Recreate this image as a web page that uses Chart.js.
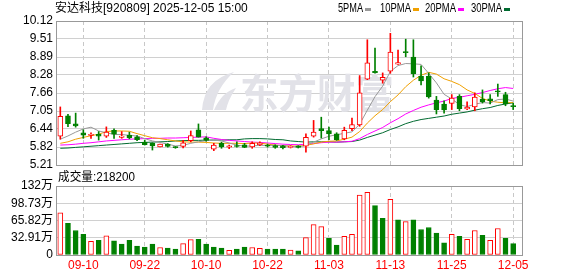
<!DOCTYPE html>
<html>
<head>
<meta charset="utf-8">
<script src="https://cdn.jsdelivr.net/npm/chart.js@4.4.1/dist/chart.umd.min.js"></script>
<style>
	body { margin: 0; background: #fff; }
	#area { position: relative; width: 578px; height: 276px; overflow: hidden; }
	canvas { position: absolute; left: 0; }
	#graficoPreco { top: 0; }
	#graficoVolume { top: 170px; }
</style>
</head>
<body>
<div id="area">
	<canvas id="graficoPreco" width="578" height="180"></canvas>
	<canvas id="graficoVolume" width="578" height="106"></canvas>
</div>
<script>
var titulo = '安达科技[920809] 2025-12-05 15:00';

var datas = ['09-05','09-08','09-09','09-10','09-11','09-12','09-15','09-16','09-17','09-18',
	'09-19','09-22','09-23','09-24','09-25','09-26','09-29','09-30','10-09','10-10',
	'10-13','10-14','10-15','10-16','10-17','10-20','10-21','10-22','10-23','10-24',
	'10-27','10-28','10-29','10-30','10-31','11-03','11-04','11-05','11-06','11-07',
	'11-10','11-11','11-12','11-13','11-14','11-17','11-18','11-19','11-20','11-21',
	'11-24','11-25','11-26','11-27','11-28','12-01','12-02','12-03','12-04','12-05'];

var datasMarcadas = ['09-10','09-22','10-10','10-22','11-03','11-13','11-25','12-05'];

var aberturas = [6.19,6.89,6.61,6.31,6.22,6.26,6.19,6.39,6.15,6.23,
	6.17,5.99,5.95,5.83,5.92,5.83,5.84,6.04,6.41,6.14,
	5.75,5.95,5.82,5.87,5.90,5.83,5.90,5.88,5.87,5.86,
	5.81,5.86,5.85,6.19,6.45,6.38,6.27,6.10,6.45,6.58,
	8.14,8.40,8.10,8.41,8.65,9.08,8.89,8.23,8.23,7.42,
	7.29,7.31,7.55,7.12,7.19,7.46,7.47,7.74,7.61,7.22];
var maximas = [7.19,6.94,6.98,6.41,6.31,6.35,6.51,6.44,6.35,6.33,
	6.21,6.06,5.97,5.92,5.94,5.84,6.05,6.37,6.61,6.17,
	5.95,5.99,5.89,6.00,5.95,6.00,6.00,5.92,5.90,5.88,
	5.87,5.87,6.27,6.73,6.84,6.50,6.31,6.50,6.81,8.26,
	9.48,9.20,8.35,9.70,9.13,9.50,9.48,8.59,8.35,7.55,
	7.40,7.61,7.61,7.36,7.67,7.77,7.61,7.97,7.69,7.32];
var minimas = [6.09,6.52,6.50,6.12,6.12,6.06,6.15,6.12,6.12,6.10,
	6.04,5.89,5.72,5.83,5.82,5.78,5.79,6.00,6.16,6.02,
	5.70,5.78,5.77,5.82,5.80,5.78,5.87,5.82,5.78,5.76,
	5.79,5.79,5.65,6.16,6.13,6.07,6.05,6.07,6.38,6.53,
	8.12,8.34,8.00,8.34,8.64,8.90,8.21,7.94,7.49,6.95,
	6.98,7.10,7.06,7.10,7.06,7.32,7.29,7.55,7.23,7.10];
var fechamentos = [6.87,6.62,6.54,6.23,6.26,6.19,6.33,6.26,6.20,6.14,
	6.07,5.90,5.86,5.92,5.84,5.80,5.97,6.21,6.16,6.05,
	5.89,5.83,5.86,5.84,5.81,5.95,5.96,5.85,5.81,5.80,
	5.85,5.81,6.15,6.33,6.38,6.27,6.07,6.39,6.59,7.67,
	8.69,8.36,8.20,9.06,8.70,9.04,8.32,8.08,7.53,7.10,
	7.09,7.49,7.13,7.18,7.53,7.37,7.40,7.70,7.29,7.20];

// volume em 万
var volumes = [80.4,60.5,46.8,39.3,26.2,28.1,36.8,26.8,20.6,28.1,
	16.8,15.0,20.6,14.3,13.1,11.2,21.8,29.3,29.9,20.6,
	15.0,13.1,8.7,11.2,15.0,14.3,12.5,11.2,11.2,11.2,
	9.4,8.1,33.0,58.0,54.2,31.8,18.7,35.5,39.3,114.1,
	119.7,94.1,69.8,106.0,67.3,63.6,67.3,48.6,52.4,41.8,
	23.1,39.3,35.5,29.9,46.8,37.4,28.1,50.5,31.8,21.82];

var media5 = [6.09,6.20,6.33,6.44,6.50,6.37,6.31,6.25,6.25,6.22,
	6.20,6.11,6.03,5.98,5.92,5.86,5.88,5.95,6.00,6.04,
	6.06,6.03,5.96,5.89,5.85,5.86,5.88,5.88,5.88,5.87,
	5.85,5.82,5.88,5.99,6.10,6.19,6.24,6.29,6.34,6.60,
	7.08,7.54,7.90,8.40,8.60,8.67,8.66,8.64,8.33,8.01,
	7.62,7.46,7.27,7.20,7.28,7.34,7.32,7.44,7.46,7.39];
var media10 = [5.95,6.00,6.09,6.15,6.21,6.26,6.35,6.37,6.37,6.36,
	6.28,6.21,6.14,6.11,6.07,6.03,6.00,5.99,5.99,5.98,
	5.96,5.95,5.95,5.95,5.94,5.96,5.96,5.92,5.89,5.86,
	5.86,5.85,5.88,5.93,5.99,6.02,6.03,6.09,6.16,6.35,
	6.64,6.89,7.10,7.37,7.60,7.88,8.10,8.27,8.37,8.31,
	8.15,8.06,7.95,7.77,7.65,7.48,7.39,7.35,7.33,7.34];
var media20 = [5.89,5.90,5.92,5.95,5.97,6.00,6.03,6.05,6.07,6.09,
	6.10,6.11,6.12,6.12,6.13,6.13,6.14,6.15,6.16,6.17,
	6.12,6.08,6.05,6.03,6.01,5.99,5.98,5.96,5.94,5.92,
	5.91,5.90,5.92,5.94,5.97,5.99,5.99,6.00,6.02,6.11,
	6.25,6.37,6.49,6.65,6.79,6.95,7.07,7.18,7.26,7.33,
	7.39,7.48,7.52,7.57,7.62,7.68,7.75,7.81,7.85,7.82];
var media30 = [5.78,5.79,5.81,5.83,5.85,5.87,5.89,5.91,5.93,5.95,
	5.97,5.98,5.99,6.00,6.01,6.03,6.04,6.05,6.05,6.06,
	6.06,6.06,6.07,6.07,6.10,6.11,6.11,6.10,6.08,6.07,
	6.03,6.01,5.99,6.00,6.00,6.00,5.99,6.00,6.01,6.06,
	6.15,6.23,6.31,6.42,6.51,6.62,6.70,6.76,6.80,6.84,
	6.88,6.94,6.98,7.02,7.08,7.13,7.17,7.24,7.29,7.33];

var rotulosPreco = [5.21, 5.82, 6.44, 7.05, 7.66, 8.28, 8.89, 9.51, 10.12];
var rotulosVolume = [0, 32.91, 65.82, 98.73, 131.64];
var textosVolume = ['0', '32.91万', '65.82万', '98.73万', '132万'];

var VERMELHO = '#ff0000';
var VERDE = '#008000';
var CINZA_GRADE = '#d0d0d0';

var medias = [
	{ nome: '5PMA', valores: media5, cor: '#999999', x: 338, w: 25 },
	{ nome: '10PMA', valores: media10, cor: '#f0a000', x: 380, w: 31 },
	{ nome: '20PMA', valores: media20, cor: '#ff00ff', x: 425, w: 31 },
	{ nome: '30PMA', valores: media30, cor: '#006a30', x: 471, w: 31 }
];

Chart.defaults.font.family = '"Liberation Sans", Arial, "Noto Sans CJK SC", sans-serif';
Chart.defaults.font.size = 12;
Chart.defaults.color = '#000';

var posicoesDatas = datasMarcadas.map(function(d) { return datas.indexOf(d); });

function alta(i) {
	return fechamentos[i] >= aberturas[i];
}

function volumeAlta(i) {
	return i === 0 ? alta(0) : fechamentos[i] >= fechamentos[i - 1];
}

function escalaX(comRotulos) {
	return {
		type: 'linear',
		min: -0.56,
		max: 60.15,
		bounds: 'data',
		offset: false,
		grid: { color: '#c8c8c8', drawTicks: false, offset: false },
		border: { display: false, dash: [4, 3] },
		afterBuildTicks: function(s) {
			s.ticks = posicoesDatas.map(function(v) { return { value: v }; });
		},
		afterFit: function(s) { s.height = comRotulos ? 21 : 0; },
		ticks: {
			display: comRotulos,
			autoSkip: false,
			maxRotation: 0,
			color: VERMELHO,
			padding: 3,
			callback: function(v) { return datas[v]; }
		}
	};
}

function escalaY(min, max, valores, textos) {
	return {
		min: min,
		max: max,
		bounds: 'data',
		grid: { color: CINZA_GRADE, drawTicks: false },
		border: { display: false },
		afterBuildTicks: function(s) {
			s.ticks = valores.map(function(v) { return { value: v }; });
		},
		afterFit: function(s) { s.width = 56; },
		ticks: {
			color: '#000',
			padding: 3,
			autoSkip: false,
			callback: function(v, i) { return textos ? textos[i] : v.toFixed(2); }
		}
	};
}

function desenharMoldura(chart) {
	var a = chart.chartArea;
	var ctx = chart.ctx;
	ctx.save();
	ctx.strokeStyle = '#999999';
	ctx.lineWidth = 1;
	ctx.strokeRect(Math.round(a.left) + 0.5, Math.round(a.top) + 0.5,
		Math.round(a.right - a.left), Math.round(a.bottom - a.top));
	ctx.restore();
}

var pluginPreco = {
	id: 'pluginPreco',
	beforeDatasetsDraw: function(chart) {
		var ctx = chart.ctx;
		ctx.save();
		ctx.fillStyle = '#e2e2e8';
		ctx.font = 'bold 40px "Noto Sans CJK SC"';
		ctx.textBaseline = 'middle';
		ctx.fillText('东方财富', 240, 93, 154);
		ctx.beginPath();
		ctx.moveTo(202, 110);
		ctx.quadraticCurveTo(204, 80, 234, 72);
		ctx.quadraticCurveTo(216, 88, 213, 110);
		ctx.closePath();
		ctx.fill();
		ctx.beginPath();
		ctx.moveTo(214, 110);
		ctx.quadraticCurveTo(222, 92, 236, 88);
		ctx.quadraticCurveTo(228, 100, 226, 110);
		ctx.closePath();
		ctx.fill();
		ctx.restore();
	},
	afterDraw: function(chart) {
		var ctx = chart.ctx;
		desenharMoldura(chart);
		ctx.save();
		ctx.font = '12px "Liberation Sans", "Noto Sans CJK SC"';
		ctx.textBaseline = 'middle';
		ctx.fillStyle = '#000';
		ctx.fillText(titulo, 55, 9, 198);
		medias.forEach(function(m) {
			ctx.fillStyle = '#000';
			ctx.fillText(m.nome, m.x, 9, m.w);
			ctx.fillStyle = m.cor;
			ctx.fillRect(m.x + m.w + 2, 8, 6, 3);
		});
		ctx.restore();
	}
};

var pluginVolume = {
	id: 'pluginVolume',
	afterDraw: function(chart) {
		var ctx = chart.ctx;
		desenharMoldura(chart);
		ctx.save();
		ctx.font = '12px "Liberation Sans", "Noto Sans CJK SC"';
		ctx.textBaseline = 'middle';
		ctx.fillStyle = '#000';
		ctx.fillText('成交量:' + Math.round(volumes[volumes.length - 1] * 10000), 58, 8, 77);
		ctx.restore();
	}
};

function linhaMedia(m, ordem) {
	return {
		type: 'line',
		label: m.nome,
		data: m.valores.map(function(v, i) { return { x: i, y: v }; }),
		borderColor: m.cor,
		borderWidth: 1,
		pointRadius: 0,
		tension: 0,
		order: ordem
	};
}

var datasetsPreco = [
	{
		label: 'corpo',
		data: datas.map(function(d, i) { return { x: i, y: [aberturas[i], fechamentos[i]] }; }),
		backgroundColor: datas.map(function(d, i) {
			if (!alta(i)) return VERDE;
			return fechamentos[i] - aberturas[i] < 0.04 ? VERMELHO : '#ffffff';
		}),
		borderColor: datas.map(function(d, i) { return alta(i) ? VERMELHO : VERDE; }),
		borderWidth: 1,
		borderSkipped: false,
		barThickness: 5,
		minBarLength: 1,
		grouped: false,
		order: 0
	},
	{
		label: 'sombra',
		data: datas.map(function(d, i) { return { x: i, y: [minimas[i], maximas[i]] }; }),
		backgroundColor: datas.map(function(d, i) { return alta(i) ? VERMELHO : VERDE; }),
		barThickness: 1,
		grouped: false,
		order: 1
	}
];
medias.forEach(function(m, k) { datasetsPreco.push(linhaMedia(m, 2 + k)); });

var graficoPreco = new Chart(document.getElementById('graficoPreco'), {
	type: 'bar',
	data: { datasets: datasetsPreco },
	options: {
		responsive: false,
		animation: false,
		devicePixelRatio: 1,
		events: [],
		layout: { padding: { left: 0, top: 21, right: 56, bottom: 15 } },
		plugins: { legend: { display: false }, tooltip: { enabled: false } },
		scales: {
			x: escalaX(false),
			y: escalaY(5.21, 10.12, rotulosPreco, null)
		}
	},
	plugins: [pluginPreco]
});

var graficoVolume = new Chart(document.getElementById('graficoVolume'), {
	type: 'bar',
	data: {
		datasets: [{
			label: 'volume',
			data: volumes.map(function(v, i) { return { x: i, y: v }; }),
			backgroundColor: volumes.map(function(v, i) { return volumeAlta(i) ? '#ffffff' : VERDE; }),
			borderColor: volumes.map(function(v, i) { return volumeAlta(i) ? VERMELHO : VERDE; }),
			borderWidth: 1,
			borderSkipped: false,
			barThickness: 5,
			grouped: false
		}]
	},
	options: {
		responsive: false,
		animation: false,
		devicePixelRatio: 1,
		events: [],
		layout: { padding: { left: 0, top: 16, right: 56, bottom: 0 } },
		plugins: { legend: { display: false }, tooltip: { enabled: false } },
		scales: {
			x: escalaX(true),
			y: escalaY(0, 131.64, rotulosVolume, textosVolume)
		}
	},
	plugins: [pluginVolume]
});
</script>
</body>
</html>
